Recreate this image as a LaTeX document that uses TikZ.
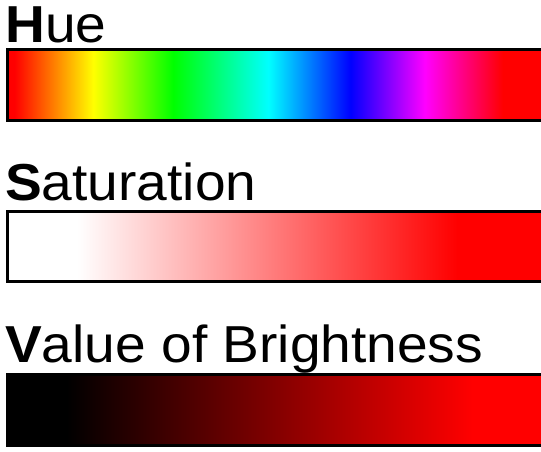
\documentclass[tikz,border=0pt]{standalone}
\usepackage{fontspec}
\setmainfont[FakeStretch=1.06]{Liberation Sans}
\usepackage{xcolor}
\usepackage{tikz}
\usetikzlibrary{positioning}
\definecolor{myred}{RGB}{255,0,0}
\definecolor{myyellow}{RGB}{255,255,0}
\definecolor{mygreen}{RGB}{0,255,0}
\definecolor{mycyan}{RGB}{0,255,255}
\definecolor{myblue}{RGB}{0,0,255}
\definecolor{mymagenta}{RGB}{255,0,255}
% bar runs from x=7 to x=547, mapped onto 25bp..75bp of the shading
\pgfdeclarehorizontalshading{hueshade}{100bp}{
  color(0bp)=(myred); color(25.7bp)=(myred);
  color(33.0bp)=(myyellow); color(40.4bp)=(mygreen);
  color(49.2bp)=(mycyan); color(56.8bp)=(myblue);
  color(63.7bp)=(mymagenta); color(70.9bp)=(myred);
  color(100bp)=(myred)}
\pgfdeclarehorizontalshading{satshade}{100bp}{
  color(0bp)=(white); color(31.5bp)=(white);
  color(66.7bp)=(myred); color(100bp)=(myred)}
\pgfdeclarehorizontalshading{valshade}{100bp}{
  color(0bp)=(black); color(30.5bp)=(black);
  color(68.1bp)=(myred); color(100bp)=(myred)}
\tikzset{
  title/.style={anchor=base west, inner sep=0pt, font=\fontsize{52}{60}\selectfont},
  bar/.style={draw=black, line width=3pt}
}

\begin{document}
\begin{tikzpicture}[x=1pt, y=-1pt]
  \clip (0,0) rectangle (541,452);
  % Labels
  \node[title] (hue) at (5,43) {\textbf{H}ue};
  \node[title] (sat) at (5,200.7) {\textbf{S}aturation};
  \node[title] (val) at (5,362.7) {\textbf{V}alue of Brightness};

  % Hue bar
  \shade[shading=hueshade] (7,49.2) rectangle (547,120.2);
  \draw[bar] (7,49.2) rectangle (547,120.2);
  % Saturation bar
  \shade[shading=satshade] (7,211.5) rectangle (547,281.2);
  \draw[bar] (7,211.5) rectangle (547,281.2);
  % Value bar
  \shade[shading=valshade] (7,374.8) rectangle (547,445.8);
  \draw[bar] (7,374.8) rectangle (547,445.8);
\end{tikzpicture}
\end{document}
